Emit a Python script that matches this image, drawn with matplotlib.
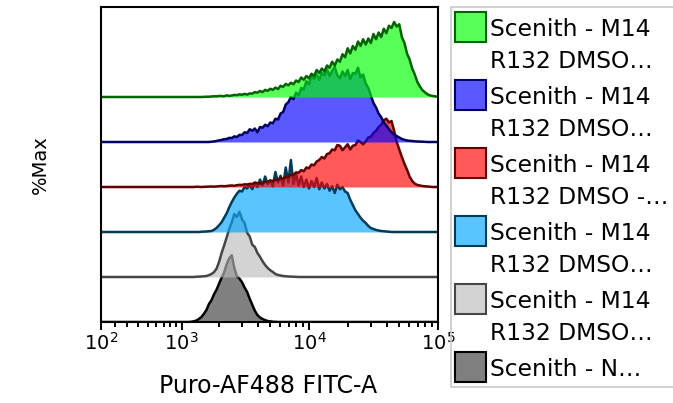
import matplotlib
matplotlib.use("Agg")
import matplotlib.pyplot as plt
from matplotlib.colors import to_rgb
from matplotlib.patches import Rectangle
import numpy as np

plt.rcParams["font.family"] = ["DejaVu Sans"]

# ---- data: bin centres (FITC-A) and %Max per sample ----
BINS = [832, 871, 912, 955, 1000, 1047, 1096, 1148, 1202, 1259,
        1318, 1380, 1445, 1514, 1585, 1660, 1738, 1820, 1905, 1995,
        2089, 2188, 2291, 2399, 2512, 2630, 2754, 2884, 3020, 3162,
        3311, 3467, 3631, 3802, 3981, 4169, 4365, 4571, 4786, 5012,
        5248, 5495, 5754, 6026, 6310, 6607, 6918, 7244, 7586, 7943,
        8318, 8710, 9120, 9550, 10000, 10471, 10965, 11482, 12023, 12589,
        13183, 13804, 14454, 15136, 15849, 16596, 17378, 18197, 19055, 19953,
        20893, 21878, 22909, 23988, 25119, 26303, 27542, 28840, 30200, 31623,
        33113, 34674, 36308, 38019, 39811, 41687, 43652, 45709, 47863, 50119,
        52481, 54954, 57544, 60256, 63096, 66069, 69183, 72444, 75858, 79433,
        83176, 87096, 91201, 95499, 100000]

GREEN = [0, 0, 0, 0, 0, 0, 0, 0, 0, 0,
         0, 0, 0, 0.2, 0.4, 0.3, 0.7, 1.0, 0.8, 1.4,
         1.3, 1.0, 2.2, 1.5, 2.0, 2.8, 2.4, 3.6, 3.0, 4.2,
         3.2, 4.8, 4.5, 6.5, 5.8, 8, 6.5, 9.5, 8.2, 11,
         9.5, 12.5, 10.5, 15, 13.5, 17.5, 15.5, 19, 17, 22,
         20, 26, 23, 28, 25, 31, 28, 36, 32, 38,
         34, 42, 39, 47, 42, 50, 47, 57, 53, 65,
         58, 68, 63, 74, 68, 77, 70, 78, 72, 84,
         77, 86, 80, 91, 85, 95, 92, 100, 94, 97,
         80, 72, 58, 50, 38, 30, 20, 14, 9, 6,
         3.5, 2, 1.3, 0.8, 0.5]
BLUE = [0, 0, 0, 0, 0, 0, 0, 0, 0, 0,
        0, 0, 0, 0, 0, 0, 0.4, 0.8, 1.3, 2.2,
        2.7, 3.8, 4, 5.5, 5.3, 7.5, 6.7, 9.5, 9.3, 13,
        12, 17, 15, 18, 13, 20, 19, 23, 21, 26,
        25, 31, 30, 38, 40, 50, 53, 60, 57, 66,
        62, 72, 70, 81, 77, 88, 84, 90, 83, 92,
        89, 97, 88, 95, 100, 89, 85, 94, 88, 96,
        84, 92, 91, 99, 86, 90, 78, 72, 62, 52,
        46, 38, 33, 26, 22, 17, 13, 10, 8, 6,
        4, 3, 2, 1.6, 1.3, 0.9, 0.7, 0.5, 0.4, 0.2,
        0, 0, 0, 0, 0]
RED = [0, 0, 0, 0, 0, 0, 0, 0, 0, 0,
       0.4, 0.2, 0, 0.2, 0.4, 0.5, 0.7, 0.5, 0.7, 1.1,
       1.3, 1.0, 1.3, 1.8, 2, 1.6, 2.4, 2.9, 2.7, 3.6,
       3.3, 4.2, 4, 5.6, 5.3, 4.6, 5, 7, 6.7, 8.4,
       8, 9.8, 9.3, 12, 11, 13.5, 13, 16.5, 16, 19.5,
       19, 22.5, 21, 26, 25, 30, 29, 34, 36, 40,
       38, 44, 45, 50, 49, 56, 55, 49, 53, 57,
       50, 55, 56, 62, 60, 57, 61, 66, 67, 72,
       75, 80, 83, 89, 91, 86, 88, 75, 60, 50,
       40, 31, 23, 14, 8, 4.5, 2.7, 2, 1.3, 0.9,
       0.7, 0.3, 0, 0, 0]
LBLUE = [0, 0, 0, 0, 0, 0, 0, 0, 0, 0,
         0, 0, 0.4, 0.5, 0.7, 1.0, 1.3, 3, 5.3, 9,
         13, 19, 25, 33, 40, 46, 51, 55, 54, 60,
         58, 63, 57, 66, 60, 70, 62, 74, 64, 69,
         61, 80, 66, 75, 62, 86, 66, 96, 64, 78,
         62, 74, 60, 70, 58, 68, 60, 72, 57, 66,
         58, 64, 55, 61, 52, 63, 57, 60, 54, 52,
         43, 36, 29, 24, 19, 15, 12, 8, 5.3, 4,
         2.7, 2, 1.3, 1, 0.7, 0.4, 0, 0, 0, 0,
         0, 0, 0, 0, 0, 0, 0, 0, 0, 0,
         0, 0, 0, 0, 0]
LGRAY = [0, 0, 0, 0, 0, 0, 0, 0, 0, 0,
         0.4, 0.5, 0.7, 1.0, 1.3, 2.5, 4, 6.5, 11, 20,
         32, 42, 53, 64, 73, 84, 80, 87, 77, 72,
         59, 54, 43, 40, 32, 27, 21, 16, 12, 9,
         6.7, 4, 2.7, 2, 1.3, 1, 0.7, 0.5, 0.4, 0.2,
         0, 0, 0, 0, 0, 0, 0, 0, 0, 0,
         0, 0, 0, 0, 0, 0, 0, 0, 0, 0,
         0, 0, 0, 0, 0, 0, 0, 0, 0, 0,
         0, 0, 0, 0, 0, 0, 0, 0, 0, 0,
         0, 0, 0, 0, 0, 0, 0, 0, 0, 0,
         0, 0, 0, 0, 0]
DGRAY = [0, 0, 0, 0, 0, 0, 0, 0, 0.4, 1,
         2, 4, 6.7, 11, 16, 24, 29, 37, 43, 51,
         59, 66, 77, 85, 89, 72, 61, 58, 53, 46,
         40, 31, 23, 15, 9.3, 6, 4, 2.5, 1.3, 0.8,
         0.4, 0.2, 0, 0, 0, 0, 0, 0, 0, 0,
         0, 0, 0, 0, 0, 0, 0, 0, 0, 0,
         0, 0, 0, 0, 0, 0, 0, 0, 0, 0,
         0, 0, 0, 0, 0, 0, 0, 0, 0, 0,
         0, 0, 0, 0, 0, 0, 0, 0, 0, 0,
         0, 0, 0, 0, 0, 0, 0, 0, 0, 0,
         0, 0, 0, 0, 0]

SAMPLES = [GREEN, BLUE, RED, LBLUE, LGRAY, DGRAY]   # top -> bottom
LABELS = ["Scenith - M14\nR132 DMSO\u2026",
          "Scenith - M14\nR132 DMSO\u2026",
          "Scenith - M14\nR132 DMSO -\u2026",
          "Scenith - M14\nR132 DMSO\u2026",
          "Scenith - M14\nR132 DMSO\u2026",
          "Scenith - N\u2026"]
XTICKS = [1e2, 1e3, 1e4, 1e5]
XTICKLABELS = [r"$10^{2}$", r"$10^{3}$", r"$10^{4}$", r"$10^{5}$"]

# ---- style ----
FILL = ["#00ff00", "#0000ff", "#ff0000", "#00a5ff", "#bcbcbc", "#3c3c3c"]
EDGE = ["#006400", "#000064", "#640000", "#003c5a", "#464646", "#000000"]
ALPHA = 0.65
OFFSET = 60          # %Max units between stacked baselines
W = 377.0            # linear width of the biex-like (asinh) axis


def fwd(x):
    return np.arcsinh(np.asarray(x, dtype=float) / W)


def inv(y):
    return W * np.sinh(y)


def on_white(c):
    r = np.array(to_rgb(c))
    return tuple(ALPHA * r + (1 - ALPHA))


fig = plt.figure(figsize=(6.73, 4.03), dpi=100)
ax = fig.add_axes([101 / 673, 81 / 403, 337 / 673, 315 / 403])
ax.set_xscale("function", functions=(fwd, inv))

x = np.array([100.0] + BINS)
n = len(SAMPLES)
for i in range(n - 1, -1, -1):          # bottom layer first, upper fills cover it
    level = (n - 1 - i) * OFFSET
    h = np.array([0.0] + SAMPLES[i])
    ax.fill_between(x, level, level + h, color=FILL[i], alpha=ALPHA, lw=0, zorder=2)
    ax.plot(x, level + h, color=EDGE[i], lw=1.8, zorder=2)

ax.set_xlim(100, 1e5)
ax.set_ylim(0, 420)
ax.set_yticks([])
ax.set_xticks(XTICKS)
ax.set_xticklabels(XTICKLABELS)
ax.set_xticks([m * 10.0 ** e for e in (2, 3, 4) for m in range(2, 10)], minor=True)
ax.tick_params(axis="x", which="major", length=5.8, width=1.4, pad=1.5,
               labelsize=14, direction="out")
ax.tick_params(axis="x", which="minor", length=3.6, width=1.4, direction="out")
for s in ax.spines.values():
    s.set_linewidth(1.5)

# ---- overlay in pixel coords: axis titles + legend ----
ov = fig.add_axes([0, 0, 1, 1])
ov.set_xlim(0, 673)
ov.set_ylim(403, 0)
ov.axis("off")

ov.text(40, 165, "%Max", rotation=90, ha="center", va="center", fontsize=14)
ov.text(268, 393, "Puro-AF488 FITC-A", ha="center", va="baseline", fontsize=17)

# legend frame: open on the right, like the clipped FlowJo legend
ov.plot([680, 451, 451, 680], [7, 7, 387, 387], color="#c8c8c8", lw=1.2,
        clip_on=False)
for j, lab in enumerate(LABELS):
    top = 11 + 68 * j
    ov.add_patch(Rectangle((455, top + 0.5), 31, 30, fc=on_white(FILL[j]),
                           ec=EDGE[j], lw=1.5))
    for k, line in enumerate(lab.split("\n")):
        ov.text(490, top + 24.5 + 33 * k, line, va="baseline", fontsize=16.8)

fig.savefig("out.png", dpi=100)
